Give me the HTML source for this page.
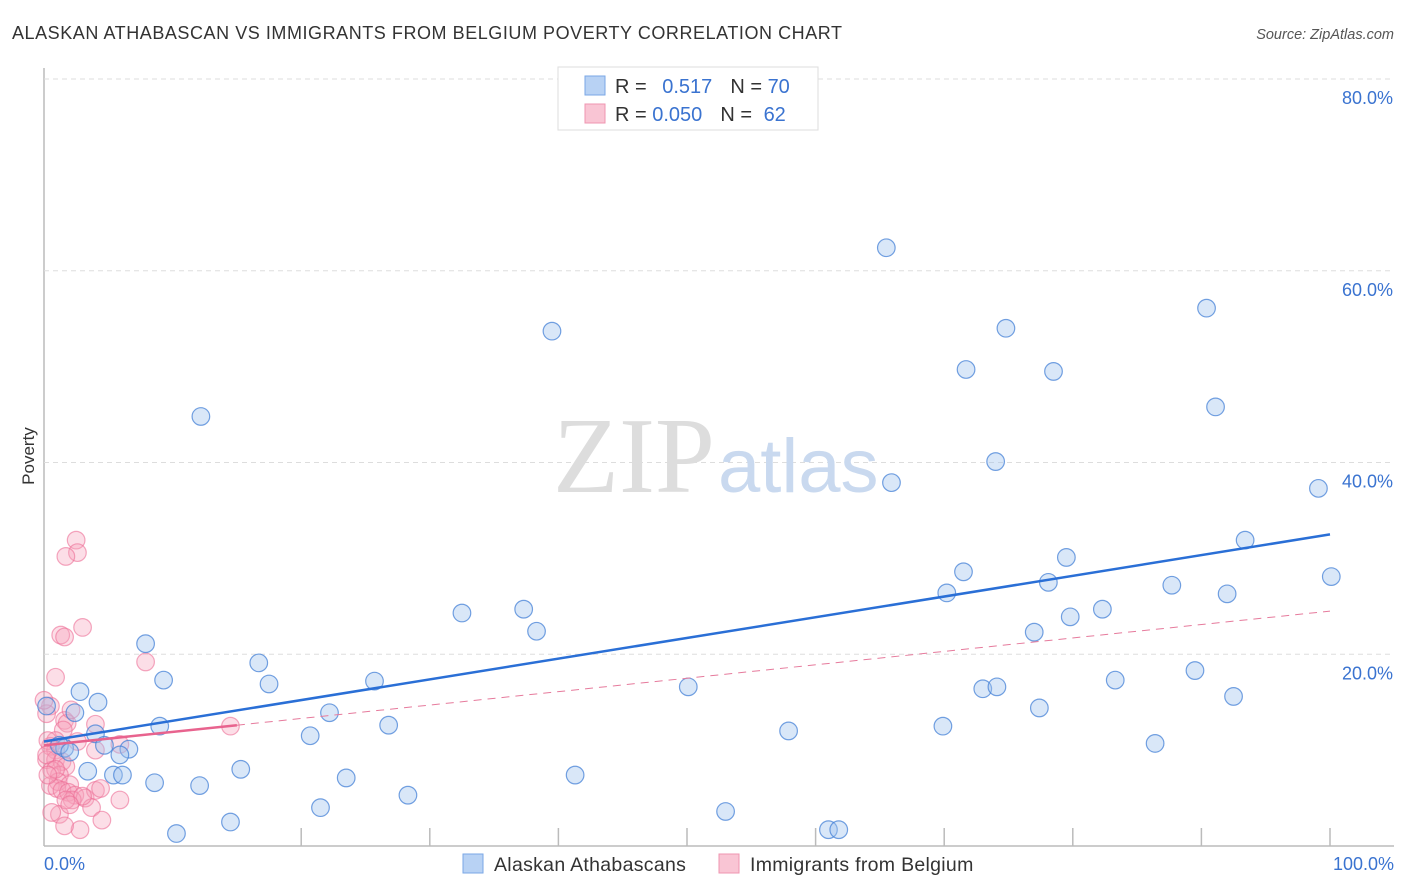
<!DOCTYPE html>
<html><head><meta charset="utf-8"><style>
body{margin:0;background:#fff;font-family:"Liberation Sans",sans-serif}
#wrap{position:relative;width:1406px;height:892px;overflow:hidden}
</style></head><body>
<div id="wrap">
<svg id="svg" width="1406" height="892" xmlns="http://www.w3.org/2000/svg">
<text x="12" y="39" font-size="18" letter-spacing="0.55" fill="#333">ALASKAN ATHABASCAN VS IMMIGRANTS FROM BELGIUM POVERTY CORRELATION CHART</text>
<text x="1394" y="39" font-size="14.5" fill="#555" font-style="italic" text-anchor="end">Source: ZipAtlas.com</text>
<text x="34" y="456" font-size="17" fill="#333" text-anchor="middle" transform="rotate(-90 34 456)">Poverty</text>
<g id="grid"></g>
<text x="553" y="492" font-size="108" font-family="Liberation Serif,serif" fill="#ddd">ZIP</text>
<text x="718" y="492" font-size="76" fill="#c9d9ef">atlas</text>
<g id="pts"></g>
<g id="lines"></g>
<g>
<rect x="558" y="67" width="260" height="63" fill="#fff" stroke="#ddd"/>
<rect x="585" y="76" width="20" height="19" fill="#b8d2f4" stroke="#7aa7e6"/>
<rect x="585" y="104" width="20" height="19" fill="#f9c5d4" stroke="#ef95b0"/>
<text x="615" y="93" font-size="20" fill="#333">R = <tspan fill="#3a73d0" dx="10">0.517</tspan><tspan dx="18" fill="#333">N = </tspan><tspan fill="#3a73d0">70</tspan></text>
<text x="615" y="121" font-size="20" fill="#333">R = <tspan fill="#3a73d0">0.050</tspan><tspan dx="18" fill="#333">N = </tspan><tspan fill="#3a73d0" dx="6">62</tspan></text>
</g>
<g>
<rect x="463" y="854" width="20" height="19" fill="#b8d2f4" stroke="#7aa7e6"/>
<text x="494" y="871" font-size="19.5" letter-spacing="0.3" fill="#333">Alaskan Athabascans</text>
<rect x="719" y="854" width="20" height="19" fill="#f9c5d4" stroke="#ef95b0"/>
<text x="750" y="871" font-size="19.5" letter-spacing="0.3" fill="#333">Immigrants from Belgium</text>
</g>
<text x="44" y="870" font-size="18" fill="#3a73d0">0.0%</text>
<text x="1394" y="870" font-size="18" fill="#3a73d0" text-anchor="end">100.0%</text>
</svg>
</div>
<script>
const yTicks=[20,40,60,80];
const yTickLabels=["20.0%","40.0%","60.0%","80.0%"];
const xTicks=[20,30,40,50,60,70,80,90,100];
const blueX=[65.5,39.5,12.2,74.8,71.7,78.5,90.4,91.1,74.0,65.9,99.1,93.4,79.5,71.5,78.1,70.2,87.7,92.0,100.1,32.5,37.3,38.3,79.8,82.3,77.0,7.9,16.7,9.3,17.5,25.7,50.1,73.0,74.1,83.3,89.5,92.5,77.4,2.8,4.2,22.2,9.0,26.8,69.9,57.9,20.7,86.4,4.0,4.7,6.6,5.9,1.6,3.4,5.4,6.1,15.3,8.6,12.1,23.5,41.3,28.3,21.5,53.0,14.5,10.3,61.0,61.8,0.2,2.4,1.2,2.0];
const blueY=[62.4,53.7,44.8,54.0,49.7,49.5,56.1,45.8,40.1,37.9,37.3,31.9,30.1,28.6,27.5,26.4,27.2,26.3,28.1,24.3,24.7,22.4,23.9,24.7,22.3,21.1,19.1,17.3,16.9,17.2,16.6,16.4,16.6,17.3,18.3,15.6,14.4,16.1,15.0,13.9,12.5,12.6,12.5,12.0,11.5,10.7,11.7,10.5,10.1,9.5,10.2,7.8,7.4,7.4,8.0,6.6,6.3,7.1,7.4,5.3,4.0,3.6,2.5,1.3,1.7,1.7,14.6,13.9,10.5,9.8];
const pinkX=[2.5,2.6,1.7,1.3,1.6,3.0,7.9,0.9,0.5,0.2,1.6,1.8,2.1,4.0,1.5,14.5,0.9,0.5,0.9,2.6,4.0,5.9,0.2,0.9,1.4,1.7,0.6,1.2,1.1,2.0,0.5,1.0,1.4,1.9,2.4,3.2,4.0,4.4,3.7,5.9,4.5,1.2,2.8,1.6,0.6,0.3,0.2,0.0,2.2,3.0,0.9,1.7,2.0,0.3];
const pinkY=[31.9,30.6,30.2,22.0,21.8,22.8,19.2,17.6,14.6,13.8,13.1,12.8,14.2,12.7,12.1,12.5,11.0,10.4,10.0,10.9,10.0,10.6,9.0,9.0,8.8,8.3,7.9,7.4,6.7,6.4,6.3,6.0,5.8,5.6,5.3,5.0,5.8,6.0,4.0,4.8,2.7,3.3,1.7,2.1,3.5,11.0,9.5,15.2,4.8,5.2,8.0,4.8,4.3,7.4];
const X0=44,X1=1330,Y0=846,PXY=9.5875;
const sx=v=>X0+(X1-X0)*v/100, sy=v=>Y0-v*PXY;
const NS="http://www.w3.org/2000/svg";
function mk(t,a,p){const e=document.createElementNS(NS,t);for(const k in a)e.setAttribute(k,a[k]);p.appendChild(e);return e;}
const grid=document.getElementById('grid');
const ax=mk('line',{x1:44,y1:68,x2:44,y2:846,stroke:'#bbb','stroke-width':1.5},grid);


const bx=mk('line',{x1:44,y1:846,x2:1394,y2:846,stroke:'#bbb','stroke-width':1.5},grid);


yTicks.forEach((v,i)=>{
 const g=mk('line',{x1:44,x2:1394,y1:sy(v),y2:sy(v),stroke:'#ddd','stroke-dasharray':'5,4'},grid);
 
 
 const t=mk('text',{x:1393,y:sy(v)+25,'font-size':18,fill:'#3a73d0','text-anchor':'end'},grid);
 t.textContent=yTickLabels[i];
 
 
});
xTicks.forEach(v=>{
 const l=mk('line',{x1:sx(v),x2:sx(v),y1:828,y2:846,stroke:'#bbb','stroke-width':1.5},grid);
 
 
});
const pts=document.getElementById('pts');
pinkX.forEach((x,i)=>{
 const c=mk('circle',{cx:sx(x),cy:sy(pinkY[i]),r:8.8,fill:'rgba(246,160,186,0.35)',stroke:'rgba(236,110,150,0.6)','stroke-width':1.2},pts);
 
 
});
blueX.forEach((x,i)=>{
 const c=mk('circle',{cx:sx(x),cy:sy(blueY[i]),r:8.8,fill:'rgba(160,195,238,0.4)',stroke:'rgba(70,130,215,0.75)','stroke-width':1.2},pts);
 
 
});
const lines=document.getElementById('lines');
const bf=[10.9,0.216];
const pf=[10.5,0.14];
const bl=mk('line',{x1:sx(0),y1:sy(bf[0]),x2:sx(100),y2:sy(bf[0]+bf[1]*100),stroke:'#2a6fd6','stroke-width':2.5},lines);


const pd=mk('line',{x1:sx(15),y1:sy(pf[0]+pf[1]*15),x2:sx(100),y2:sy(pf[0]+pf[1]*100),stroke:'#e67a9c','stroke-width':1,'stroke-dasharray':'8,6'},lines);


const ps=mk('line',{x1:sx(0),y1:sy(pf[0]),x2:sx(15),y2:sy(pf[0]+pf[1]*15),stroke:'#e8638e','stroke-width':2.5},lines);


</script>
</body></html>
